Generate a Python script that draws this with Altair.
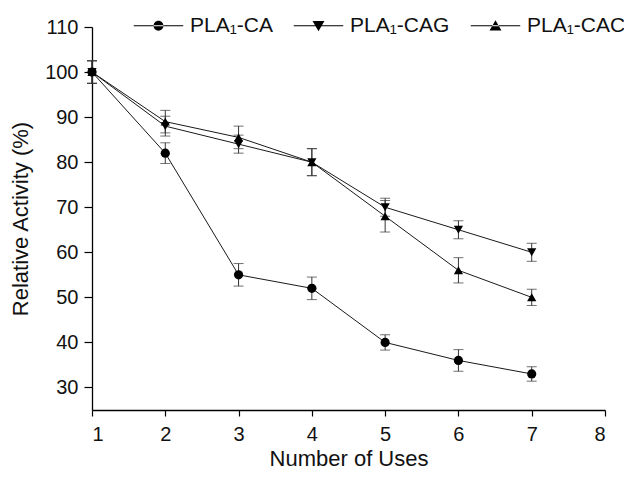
import altair as alt
import pandas as pd

uses = [1, 2, 3, 4, 5, 6, 7]
series_names = ["PLA\u2081-CA", "PLA\u2081-CAG", "PLA\u2081-CAC"]
ca = [100, 82, 55, 52, 40, 36, 33]
ca_err = [2.5, 2.3, 2.5, 2.5, 1.7, 2.4, 1.6]
cag = [100, 88, 84, 80, 70, 65, 60]
cag_err = [2.5, 2.2, 2.0, 3.0, 2.0, 2.0, 2.0]
cac = [100, 89, 85.5, 80, 68, 56, 50]
cac_err = [2.5, 2.5, 2.5, 3.0, 3.5, 2.8, 1.8]
x_ticks = [1, 2, 3, 4, 5, 6, 7, 8]
y_ticks = [30, 40, 50, 60, 70, 80, 90, 100, 110]

rows = []
for name, vals, errs in zip(series_names, [ca, cag, cac], [ca_err, cag_err, cac_err]):
    for u, v, e in zip(uses, vals, errs):
        rows.append({"uses": u, "activity": v, "lo": v - e, "hi": v + e, "series": name})
df = pd.DataFrame(rows)

FONT = "Liberation Sans"
xs = alt.Scale(domain=[1, 8], nice=False)
ys = alt.Scale(domain=[25, 110], nice=False, zero=False)

xenc = alt.X("uses:Q", scale=xs, title="Number of Uses",
             axis=alt.Axis(values=x_ticks, format="d", grid=False))
yaxis = alt.Axis(values=y_ticks, grid=False)

base = alt.Chart(df)

lines = base.mark_line(color="#1a1a1a", strokeWidth=1).encode(
    x=xenc,
    y=alt.Y("activity:Q", scale=ys, title="Relative Activity (%)", axis=yaxis),
    detail="series:N",
)

errs = base.mark_errorbar(
    ticks={"size": 10, "thickness": 1, "color": "#333333"},
    rule={"color": "#333333", "strokeWidth": 1},
).encode(
    x=alt.X("uses:Q", scale=xs),
    y=alt.Y("lo:Q", scale=ys, title="Relative Activity (%)"),
    y2="hi:Q",
    detail="series:N",
)

points = base.mark_point(filled=True, color="black", opacity=1, size=85).encode(
    x=alt.X("uses:Q", scale=xs),
    y=alt.Y("activity:Q", scale=ys),
    shape=alt.Shape("series:N", sort=series_names, legend=None,
                    scale=alt.Scale(domain=series_names,
                                    range=["circle", "triangle-down", "triangle-up"])),
)

# legend symbols: a thin filled bar (the line) plus the marker
bar = "M-1,-0.022H1V0.022H-1Z"
legend_paths = [
    bar + "M-0.2,0A0.2,0.2,0,1,0,0.2,0A0.2,0.2,0,1,0,-0.2,0Z",
    bar + "M-0.24,-0.19H0.24L0,0.22Z",
    bar + "M-0.24,0.19H0.24L0,-0.22Z",
]

legend_layer = base.mark_point(
    filled=True, fill="black", stroke="black", strokeWidth=1, opacity=0
).encode(
    x=alt.X("uses:Q", scale=xs),
    y=alt.Y("activity:Q", scale=ys),
    shape=alt.Shape("series:N", sort=series_names,
                    scale=alt.Scale(domain=series_names, range=legend_paths),
                    legend=alt.Legend(
                        title=None, orient="none", direction="horizontal",
                        legendX=41, legendY=-27,
                        symbolSize=2450, symbolOpacity=1,
                        symbolFillColor="black", symbolStrokeColor="black",
                        symbolStrokeWidth=1,
                        labelFont=FONT, labelFontSize=21, labelColor="#111111",
                        labelOffset=6, columnPadding=18,
                    )),
)

chart = alt.layer(lines, errs, points, legend_layer).resolve_scale(
    shape="independent"
).properties(
    width=513, height=383,
    autosize=alt.AutoSizeParams(type="none"),
    padding={"left": 84, "top": 19, "right": 19, "bottom": 62},
).configure_view(stroke=None).configure_axis(
    domainColor="black", tickColor="black", domainWidth=1.3, tickWidth=1.2,
    labelFont=FONT, labelFontSize=20, labelColor="#111111",
    titleFont=FONT, titleFontSize=22, titleFontWeight="normal", titleColor="#111111",
).configure_axisX(tickSize=6, labelPadding=8, titlePadding=4).configure_axisY(
    tickSize=8, labelPadding=6, titlePadding=12)

chart.save("out.html", embed_options={"renderer": "svg", "actions": False})
